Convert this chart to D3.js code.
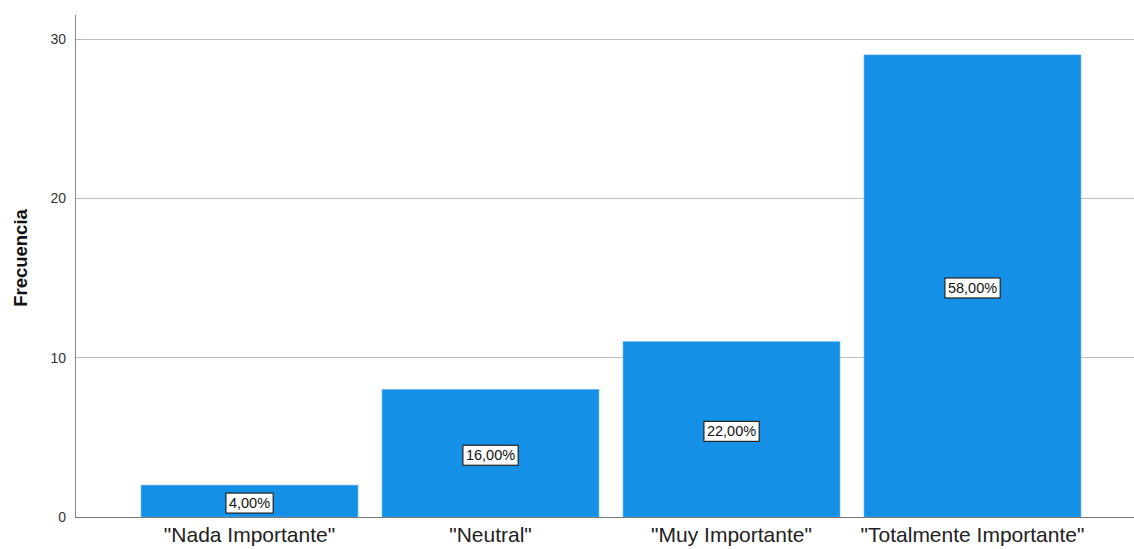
<!DOCTYPE html>
<html><head><meta charset="utf-8">
<script src="https://cdn.jsdelivr.net/npm/d3@7"></script>
<style>body{margin:0;background:#fff;}svg{display:block;font-family:"Liberation Sans",Arial,sans-serif;}</style>
</head><body>
<svg id="c" width="1134" height="549"></svg>
<script>
const categories = ['"Nada Importante"', '"Neutral"', '"Muy Importante"', '"Totalmente Importante"'];
const counts = [2, 8, 11, 29];
const percentLabels = ["4,00%", "16,00%", "22,00%", "58,00%"];
const yTicks = [0, 10, 20, 30];

const svg = d3.select("#c");
const axisX = 75, plotRight = 1134, y0 = 517;
const y = d3.scaleLinear().domain([0, 30]).range([y0, 39]);
const x = d3.scaleBand().domain(categories).range([129, 1093]).paddingInner(0.1).paddingOuter(0.05);

// gridlines
svg.append("g").selectAll("line").data(yTicks.filter(d => d > 0)).join("line")
  .attr("x1", axisX).attr("x2", plotRight).attr("y1", d => y(d)).attr("y2", d => y(d))
  .attr("stroke", "#bdbdbd").attr("stroke-width", 1).attr("shape-rendering", "crispEdges");

// y tick labels
svg.append("g").selectAll("text").data(yTicks).join("text")
  .attr("x", 66).attr("y", d => y(d)).attr("dy", "0.35em").attr("text-anchor", "end")
  .attr("font-size", 14).attr("fill", "#333").text(d => d);

// bars
svg.append("g").selectAll("rect").data(counts).join("rect")
  .attr("x", (d, i) => x(categories[i])).attr("width", x.bandwidth())
  .attr("y", d => y(d)).attr("height", d => y0 - y(d))
  .attr("fill", "#1490e6").attr("stroke", "#5aaef0").attr("stroke-width", 0.6);

// axes lines
svg.append("line").attr("x1", axisX).attr("x2", axisX).attr("y1", 15).attr("y2", y0)
  .attr("stroke", "#888").attr("shape-rendering", "crispEdges");
svg.append("line").attr("x1", axisX).attr("x2", plotRight).attr("y1", y0).attr("y2", y0)
  .attr("stroke", "#777").attr("shape-rendering", "crispEdges");

// percent labels
const lg = svg.append("g").selectAll("g").data(counts).join("g")
  .attr("transform", (d, i) => `translate(${x(categories[i]) + x.bandwidth() / 2},${(y(d) + y0) / 2 + 2})`);
lg.each(function(d, i) {
  const g = d3.select(this);
  const t = g.append("text").attr("text-anchor", "middle").attr("dy", "0.35em")
    .attr("font-size", 14.5).attr("fill", "#111").text(percentLabels[i]);
  const bb = t.node().getBBox();
  g.insert("rect", "text").attr("x", bb.x - 3).attr("y", -10).attr("width", bb.width + 6).attr("height", 20)
    .attr("fill", "#fff").attr("stroke", "#222").attr("stroke-width", 1.2);
});

// category labels
svg.append("g").selectAll("text").data(categories).join("text")
  .attr("x", d => x(d) + x.bandwidth() / 2).attr("y", 542).attr("text-anchor", "middle")
  .attr("font-size", 21).attr("fill", "#222").text(d => d);

// y axis title
svg.append("text").attr("transform", "translate(27,258) rotate(-90)").attr("text-anchor", "middle")
  .attr("font-size", 18.5).attr("font-weight", "bold").attr("fill", "#111").text("Frecuencia");
</script>
</body></html>
